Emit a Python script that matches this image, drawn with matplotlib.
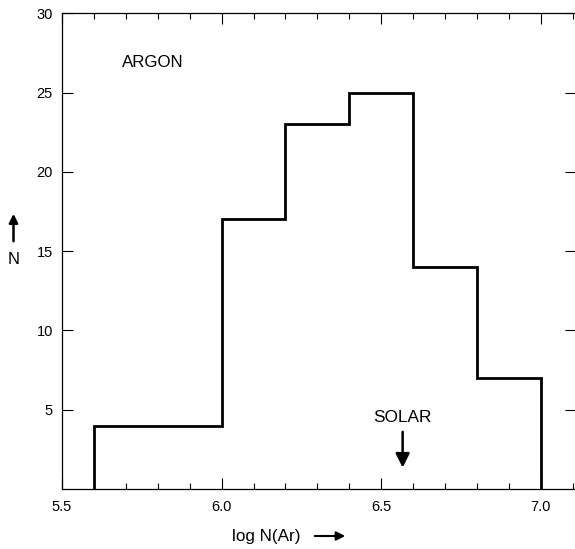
import matplotlib
matplotlib.use('Agg')
import matplotlib.pyplot as plt
from matplotlib.patches import FancyArrowPatch
import numpy as np

# histogram of log N(Ar)
bin_edges = [5.6, 6.0, 6.2, 6.4, 6.6, 6.8, 7.0]
counts = [4, 17, 23, 25, 14, 7]

x_ticks = [5.5, 6.0, 6.5, 7.0]
x_ticklabels = ['5.5', '6.0', '6.5', '7.0']
y_ticks = [5, 10, 15, 20, 25, 30]
solar_x = 6.567

plt.rcParams['font.family'] = ['Liberation Sans', 'DejaVu Sans']

W, H = 575, 549
fig = plt.figure(figsize=(W / 100, H / 100), dpi=100)
ax = fig.add_axes([62 / W, (H - 489) / H, (576 - 62) / W, (489 - 13.3) / H])

ax.stairs(counts, bin_edges, baseline=0, color='black', linewidth=2.0)

ax.set_xlim(5.5, 7.11)
ax.set_ylim(0, 30)
ax.set_xticks(x_ticks)
ax.set_xticklabels(x_ticklabels)
ax.set_xticks(np.arange(5.6, 7.11, 0.1), minor=True)
ax.set_yticks(y_ticks)
ax.set_yticklabels([str(v) for v in y_ticks])

ax.tick_params(which='major', direction='in', length=8, width=0.8,
               top=True, right=True, labelsize=10.5)
ax.tick_params(axis='x', which='major', pad=8)
ax.tick_params(axis='y', which='major', pad=6.5)
ax.tick_params(which='minor', direction='in', length=4.3, width=0.8,
               top=True, right=False, left=False)
for s in ax.spines.values():
    s.set_linewidth(0.9)

ax.text(5.5 + (122 - 62) / 319, 26.9, 'ARGON', fontsize=12.2, ha='left', va='center')

ax.text(solar_x, 4.5, 'SOLAR', fontsize=12.4, ha='center', va='center')
ax.annotate('', xy=(solar_x, 1.35), xytext=(solar_x, 3.6),
            arrowprops=dict(arrowstyle='-|>,head_length=0.6,head_width=0.3',
                            color='black', lw=1.8,
                            mutation_scale=14, shrinkA=0, shrinkB=0))

# x label with arrow
fig.text(232 / W, 13 / H, 'log N(Ar)', fontsize=12.3, ha='left', va='center')
fig.patches.append(FancyArrowPatch(
    (312, 13), (348, 13), transform=None, arrowstyle='-|>', color='black',
    lw=1.5, mutation_scale=13))

# y label with arrow
fig.text(14 / W, (H - 259) / H, 'N', fontsize=12, ha='center', va='center')
fig.patches.append(FancyArrowPatch(
    (13.5, H - 244), (13.5, H - 211), transform=None, arrowstyle='-|>', color='black',
    lw=1.8, mutation_scale=13))

fig.savefig('out.png', dpi=100)
